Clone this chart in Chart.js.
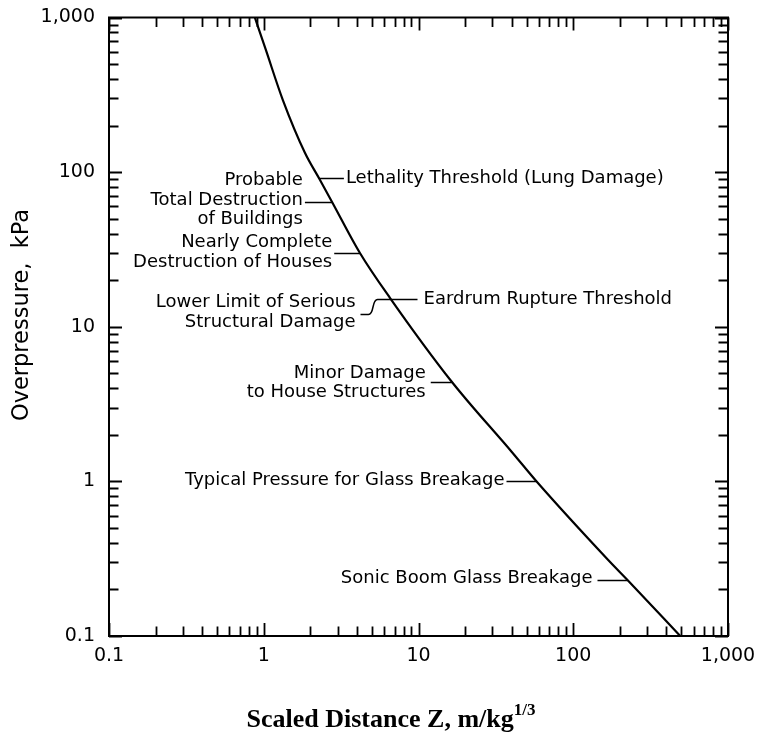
<!DOCTYPE html>
<html>
<head>
<meta charset="utf-8">
<script src="https://cdn.jsdelivr.net/npm/chart.js@4/dist/chart.umd.min.js"></script>
<style>
  html, body { margin: 0; padding: 0; background: #fff; overflow: hidden; }
  canvas { display: block; }
</style>
</head>
<body>
<canvas id="blast" width="757" height="734"></canvas>
<script>
// Incident overpressure versus scaled distance
const scaledDistance = [0.876, 1.032, 1.329, 1.845, 2.291, 2.757, 4.183, 6.552, 16.40, 40.09, 58.17, 168.2, 226.5, 491.4];
const overpressure   = [1000, 616.6, 292.4, 133.4, 90.2, 64.4, 30.0, 15.33, 4.41, 1.549, 0.994, 0.31, 0.2275, 0.1];

// Axis decades and their labels
const tickValues = [0.1, 1, 10, 100, 1000];
const tickLabels = ['0.1', '1', '10', '100', '1,000'];

// Damage criteria marked along the curve
const noteText = [
  ['Probable', 'Total Destruction', 'of Buildings'],
  ['Lethality Threshold (Lung Damage)'],
  ['Nearly Complete', 'Destruction of Houses'],
  ['Lower Limit of Serious', 'Structural Damage'],
  ['Eardrum Rupture Threshold'],
  ['Minor Damage', 'to House Structures'],
  ['Typical Pressure for Glass Breakage'],
  ['Sonic Boom Glass Breakage']
];
const notePressure = [64.4, 91.6, 29.8, 15.2, 15.2, 4.41, 1.0, 0.23];

// Label placement: side of curve, leader length, gap to text,
// where along the text block the leader points (0 = first row, 1 = last row),
// and a small vertical nudge
const noteLayout = [
  { side: 'left',  leader: 27, gap: 2, lead: 0.5,  dy: -2.5 },
  { side: 'right', leader: 25, gap: 2, lead: 0,    dy: 0 },
  { side: 'left',  leader: 26, gap: 2, lead: 0.5,  dy: -1 },
  { side: 'left',  leader: 30, gap: 5, lead: 0.65, dy: 1, step: true },
  { side: 'right', leader: 27, gap: 6, lead: 0,    dy: 0 },
  { side: 'left',  leader: 21, gap: 5, lead: 0.5,  dy: 0.5 },
  { side: 'left',  leader: 30, gap: 2, lead: 0,    dy: -1 },
  { side: 'left',  leader: 30, gap: 5, lead: 0,    dy: -2 }
];

const NOTE_FONT = '18px "DejaVu Sans"';
const TICK_FONT = { family: 'DejaVu Sans', size: 19 };
const LINE_H = 19.5;

// Overpressure -> scaled distance along the tabulated curve (log-log)
function distanceAt(p) {
  const lp = Math.log10(p);
  for (let i = 0; i < overpressure.length - 1; i++) {
    const a = Math.log10(overpressure[i]), b = Math.log10(overpressure[i + 1]);
    if (lp <= a && lp >= b) {
      const t = (lp - a) / (b - a);
      const xa = Math.log10(scaledDistance[i]), xb = Math.log10(scaledDistance[i + 1]);
      return Math.pow(10, xa + t * (xb - xa));
    }
  }
  return scaledDistance[scaledDistance.length - 1];
}

// Frame with inward ticks on all four sides, plus axis titles
const framePlugin = {
  id: 'frame',
  afterDraw(chart) {
    const { ctx, chartArea: a, scales } = chart;
    ctx.save();
    ctx.strokeStyle = '#000';
    ctx.lineWidth = 2;
    ctx.strokeRect(a.left, a.top, a.right - a.left, a.bottom - a.top);
    ctx.lineWidth = 1.8;
    ctx.beginPath();
    for (let e = -1; e <= 2; e++) {
      for (let m = 1; m <= 10; m++) {
        const v = m * Math.pow(10, e);
        const major = (m === 1 || m === 10);
        const len = major ? 13 : 9.5;
        const px = Math.round(scales.x.getPixelForValue(v)) + 0.5;
        const py = Math.round(scales.y.getPixelForValue(v)) + 0.5;
        ctx.moveTo(px, a.bottom); ctx.lineTo(px, a.bottom - len);
        ctx.moveTo(px, a.top); ctx.lineTo(px, a.top + len);
        ctx.moveTo(a.left, py); ctx.lineTo(a.left + len, py);
        ctx.moveTo(a.right, py); ctx.lineTo(a.right - len, py);
      }
    }
    ctx.stroke();

    ctx.fillStyle = '#000';
    ctx.save();
    ctx.translate(22, 315);
    ctx.rotate(-Math.PI / 2);
    ctx.font = '22.5px "DejaVu Sans"';
    ctx.textAlign = 'center';
    ctx.textBaseline = 'middle';
    ctx.fillText('Overpressure,  kPa', 0, 0);
    ctx.restore();

    const main = 'Scaled Distance Z, m/kg';
    const sup = '1/3';
    ctx.font = 'bold 26px "Liberation Serif"';
    const w1 = ctx.measureText(main).width;
    ctx.font = 'bold 17px "Liberation Serif"';
    const w2 = ctx.measureText(sup).width;
    const x0 = 391 - (w1 + w2) / 2;
    ctx.textBaseline = 'alphabetic';
    ctx.textAlign = 'left';
    ctx.font = 'bold 26px "Liberation Serif"';
    ctx.fillText(main, x0, 727);
    ctx.font = 'bold 17px "Liberation Serif"';
    ctx.fillText(sup, x0 + w1, 715);
    ctx.restore();
  }
};

// Leader lines and criterion labels
const notePlugin = {
  id: 'notes',
  afterDatasetsDraw(chart) {
    const { ctx, scales } = chart;
    ctx.save();
    ctx.strokeStyle = '#000';
    ctx.fillStyle = '#000';
    ctx.lineWidth = 1.5;
    ctx.font = NOTE_FONT;
    ctx.textBaseline = 'middle';
    noteText.forEach((lines, i) => {
      const L = noteLayout[i];
      const p = notePressure[i];
      const cx = scales.x.getPixelForValue(distanceAt(p));
      const cy = Math.round(scales.y.getPixelForValue(p)) + 0.5;
      const dir = L.side === 'left' ? -1 : 1;
      const ex = cx + dir * L.leader;
      const drop = L.step ? 15 : 0;
      ctx.beginPath();
      ctx.moveTo(cx, cy);
      if (L.step) {
        // stepped leader dropping down to the label
        ctx.lineTo(cx - 13, cy);
        ctx.bezierCurveTo(cx - 19, cy, cx - 16, cy + drop, cx - 22, cy + drop);
      }
      ctx.lineTo(ex, cy + drop);
      ctx.stroke();
      const ty = cy + drop + L.dy;
      const tx = ex + dir * L.gap;
      ctx.textAlign = L.side === 'left' ? 'right' : 'left';
      lines.forEach((s, k) => {
        ctx.fillText(s, tx, ty + (k - L.lead * (lines.length - 1)) * LINE_H);
      });
    });
    ctx.restore();
  }
};

new Chart(document.getElementById('blast'), {
  type: 'line',
  data: {
    datasets: [{
      data: scaledDistance.map((x, i) => ({ x, y: overpressure[i] })),
      borderColor: '#000',
      borderWidth: 2.2,
      pointRadius: 0,
      fill: false,
      cubicInterpolationMode: 'monotone'
    }]
  },
  options: {
    responsive: false,
    animation: false,
    devicePixelRatio: 1,
    layout: { padding: { top: 17.5, right: 29, left: 0, bottom: 0 } },
    plugins: { legend: { display: false }, tooltip: { enabled: false } },
    scales: {
      x: {
        type: 'logarithmic',
        min: 0.1, max: 1000,
        afterBuildTicks: s => { s.ticks = tickValues.map(v => ({ value: v })); },
        afterFit: s => { s.height = 98; s.paddingLeft = 0; s.paddingRight = 0; },
        ticks: {
          autoSkip: false, maxRotation: 0, color: '#000', font: TICK_FONT, padding: 9,
          callback: v => tickLabels[tickValues.indexOf(v)]
        },
        grid: { display: false, drawTicks: false },
        border: { display: false }
      },
      y: {
        type: 'logarithmic',
        min: 0.1, max: 1000,
        afterBuildTicks: s => { s.ticks = tickValues.map(v => ({ value: v })); },
        afterFit: s => { s.width = 109; s.paddingTop = 0; s.paddingBottom = 0; },
        ticks: {
          autoSkip: false, color: '#000', font: TICK_FONT, padding: 14,
          callback: v => tickLabels[tickValues.indexOf(v)]
        },
        grid: { display: false, drawTicks: false },
        border: { display: false }
      }
    }
  },
  plugins: [framePlugin, notePlugin]
});
</script>
</body>
</html>
